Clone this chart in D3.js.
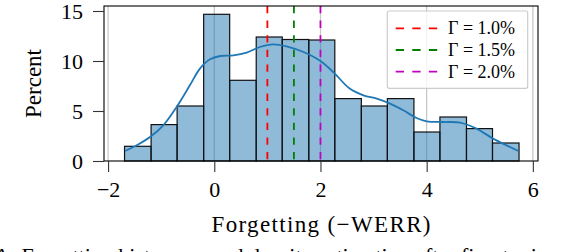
<!DOCTYPE html>
<html><head><meta charset="utf-8">
<script src="https://cdn.jsdelivr.net/npm/d3@7"></script>
<style>
html,body{margin:0;padding:0;background:#fff;overflow:hidden}
svg{display:block}
text{font-family:"Liberation Serif","Times New Roman",serif;fill:#000}
</style></head>
<body>
<svg id="c" width="574" height="252"></svg>
<script>
// ---- data ----
const binEdges = [-1.69,-1.19,-0.70,-0.20,0.29,0.79,1.28,1.78,2.27,2.77,3.26,3.76,4.25,4.75,5.24,5.74];
const binPercent = [1.47,3.64,5.5,14.67,8.07,12.4,12.15,12.1,6.24,5.5,6.24,2.9,4.4,3.24,1.8];
const kdeX = [-1.68,-1.46,-1.21,-0.96,-0.71,-0.46,-0.27,-0.08,0.11,0.36,0.61,0.86,1.11,1.36,1.68,2.0,2.27,2.55,2.81,3.06,3.31,3.56,3.81,4.0,4.31,4.63,4.94,5.25,5.57,5.73];
const kdeY = [1.0,1.57,2.4,3.57,5.4,7.57,9.24,10.17,10.5,10.57,10.84,11.4,11.67,11.47,10.9,10.0,8.74,7.24,6.57,6.24,5.74,5.07,4.3,3.97,3.9,3.84,3.24,2.24,1.4,1.0];
const gammaValues = [1.0,1.5,2.0];
const gammaLabels = ["Γ = 1.0%","Γ = 1.5%","Γ = 2.0%"];
const gammaColors = ["#ff0000","#008000","#bf00bf"];
const xTicks = [-2,0,2,4,6];
const yTicks = [0,5,10,15];

// ---- layout ----
const svg = d3.select("#c");
const L=104, R=538, T=6, B=161;
const x = d3.scaleLinear().domain([-2.077,6.097]).range([L,R]);
const y = d3.scaleLinear().domain([0,15.5]).range([B,T]);

// grid (vertical only)
svg.append("g").selectAll("line").data(xTicks).join("line")
  .attr("x1",d=>x(d)).attr("x2",d=>x(d)).attr("y1",T).attr("y2",B)
  .attr("stroke","#c4c4c4").attr("stroke-width",1.2);

// bars
const bins = binPercent.map((v,i)=>({x0:binEdges[i],x1:binEdges[i+1],v}));
svg.append("g").selectAll("rect").data(bins).join("rect")
  .attr("x",d=>x(d.x0)).attr("width",d=>x(d.x1)-x(d.x0))
  .attr("y",d=>y(d.v)).attr("height",d=>y(0)-y(d.v))
  .attr("fill","#1f77b4").attr("fill-opacity",0.5)
  .attr("stroke","#111").attr("stroke-width",1.2);

// kde
const kde = kdeX.map((v,i)=>[v,kdeY[i]]);
svg.append("path").datum(kde)
  .attr("d",d3.line().x(d=>x(d[0])).y(d=>y(d[1])).curve(d3.curveCatmullRom))
  .attr("fill","none").attr("stroke","#1f77b4").attr("stroke-width",1.8);

// gamma lines
svg.append("g").selectAll("line").data(gammaValues).join("line")
  .attr("x1",d=>x(d)).attr("x2",d=>x(d)).attr("y1",T).attr("y2",B)
  .attr("stroke",(d,i)=>gammaColors[i]).attr("stroke-width",1.8)
  .attr("stroke-dasharray","7.3,7.3");

// spines
svg.append("rect").attr("x",L).attr("y",T).attr("width",R-L).attr("height",B-T)
  .attr("fill","none").attr("stroke","#000").attr("stroke-width",1.1);

// axes
const xAxis = svg.append("g").attr("transform",`translate(0,${B})`)
  .call(d3.axisBottom(x).tickValues(xTicks).tickSize(11).tickPadding(9)
    .tickFormat(d=>d<0?"\u2212"+Math.abs(d):String(d)));
const yAxis = svg.append("g").attr("transform",`translate(${L},0)`)
  .call(d3.axisLeft(y).tickValues(yTicks).tickSize(11).tickPadding(10).tickFormat(d3.format("d")));
[xAxis,yAxis].forEach(g=>{
  g.select(".domain").remove();
  g.selectAll(".tick line").attr("stroke","#333").attr("stroke-width",1.1);
  g.selectAll(".tick text").style("font-family",'"Liberation Serif",serif').style("font-size","22px").attr("fill","#000");
});
yAxis.selectAll(".tick text").attr("dy","0.34em");
xAxis.selectAll(".tick text").attr("dy","0.74em");

// axis labels
svg.append("text").attr("x",(L+R)/2).attr("y",232).attr("text-anchor","middle")
  .attr("textLength",219).attr("lengthAdjust","spacing")
  .style("font-size","23px").text("Forgetting (\u2212WERR)");
svg.append("text").attr("transform",`translate(41,${(T+B)/2}) rotate(-90)`)
  .attr("text-anchor","middle").style("font-size","23px").text("Percent");

// legend
const lg = svg.append("g");
lg.append("rect").attr("x",387.3).attr("y",11).attr("width",140.4).attr("height",77.3)
  .attr("rx",2).attr("fill","#fff").attr("fill-opacity",0.8).attr("stroke","#cccccc").attr("stroke-width",1.2);
const ly = [28.3,50,71.7];
gammaLabels.forEach((t,i)=>{
  lg.append("line").attr("x1",395.7).attr("x2",437.3).attr("y1",ly[i]).attr("y2",ly[i])
    .attr("stroke",gammaColors[i]).attr("stroke-width",1.8).attr("stroke-dasharray","8.3,8.3");
  lg.append("text").attr("x",448).attr("y",ly[i]+6).style("font-size","18px").text(t);
});

// clipped caption (cut by the bottom edge, as in the reference)
svg.append("text").attr("x",-6).attr("y",263).style("font-size","22px")
  .text("A: Forgetting histogram and density estimation after fine-tuning and");
</script>
</body></html>
